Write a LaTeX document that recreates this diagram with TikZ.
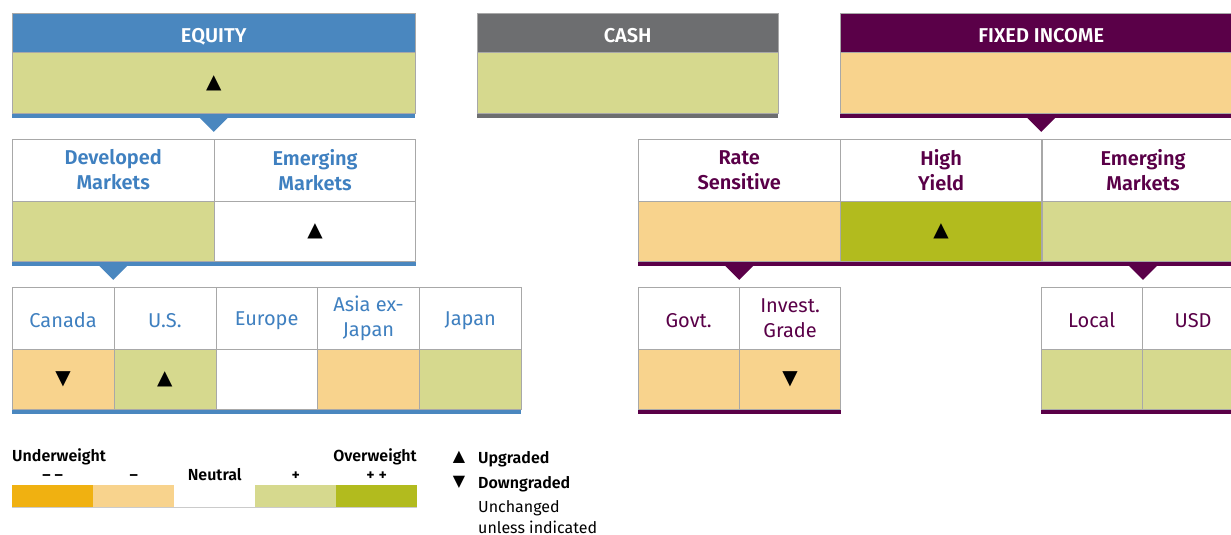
\documentclass[tikz,border=0pt]{standalone}
\usepackage{fontspec}
\setmainfont{Fira Sans}[BoldFont={Fira Sans SemiBold}]
\newfontfamily\trifont{DejaVu Sans}
\usetikzlibrary{calc}

\definecolor{eqblue}{HTML}{4A87BF}
\definecolor{eqtext}{HTML}{3F80C0}
\definecolor{cashgray}{HTML}{6D6E70}
\definecolor{fipurple}{HTML}{5A0048}
\definecolor{lightgreen}{HTML}{D6D98E}
\definecolor{lightorange}{HTML}{F8D38D}
\definecolor{olive}{HTML}{B2BB1E}
\definecolor{darkorange}{HTML}{F0B111}
\definecolor{linegray}{HTML}{A8A8A8}

\newcommand\cellstrut{\rule[-1pt]{0pt}{20pt}}

\tikzset{
  hdr/.style={fill=#1, draw=linegray, text=white, inner sep=0, minimum height=39,
    text height=19pt, text depth=0pt,
    anchor=north west, font=\fontsize{20}{24}\selectfont\bfseries},
  body/.style={fill=#1, draw=linegray, inner sep=0, minimum height=61,
    anchor=north west, font=\trifont\fontsize{20}{20}\selectfont},
  cellhead/.style={fill=white, draw=linegray, inner sep=0, minimum height=62,
    anchor=north west, align=center, text=#1, font=\fontsize{20}{25}\selectfont\bfseries,
    execute at begin node=\cellstrut, execute at end node=\cellstrut},
  subhead/.style={cellhead=#1, font=\fontsize{20}{25}\selectfont},
  cellval/.style={fill=#1, draw=linegray, inner sep=0, minimum height=60,
    anchor=north west, font=\trifont\fontsize{20}{20}\selectfont},
  legbox/.style={fill=#1, inner sep=0, minimum width=81, minimum height=22, anchor=north west},
  legtext/.style={inner sep=0, font=\fontsize{16}{19}\selectfont},
}
% pointer under a stripe, #1 colour, #2 tip base
\newcommand\pointer[2]{\fill[#1] ($(#2)+(-14,0)$) -- ($(#2)+(14,0)$) -- ($(#2)+(0,14)$) -- cycle;}

\begin{document}
\begin{tikzpicture}[x=1pt,y=-1pt]
\clip (0,0) rectangle (1231,535);

% asset classes
\node[hdr=eqblue, minimum width=403] (eqh) at (12,13) {EQUITY};
\node[body=lightgreen, minimum width=403] (eqv) at (eqh.south west) {▲};
\node[hdr=cashgray, minimum width=301] (csh) at (477,13) {CASH};
\node[body=lightgreen, minimum width=301] (csv) at (csh.south west) {};
\node[hdr=fipurple, minimum width=402] (fih) at (840,13) {FIXED INCOME};
\node[body=lightorange, minimum width=402] (fiv) at (fih.south west) {};

\fill[eqblue] (eqv.south west) rectangle ($(eqv.south east)+(0,4)$);
\fill[cashgray] (csv.south west) rectangle ($(csv.south east)+(0,4)$);
\fill[fipurple] (fiv.south west) rectangle ($(fiv.south east)+(0,4)$);
\pointer{eqblue}{$(eqv.south)+(0,4)$}
\pointer{fipurple}{$(fiv.south)+(0,4)$}

% equity regions
\node[cellhead=eqtext, minimum width=202] (dmh) at (12,139) {Developed\\Markets};
\node[cellval=lightgreen, minimum width=202] (dmv) at (dmh.south west) {};
\node[cellhead=eqtext, minimum width=201] (emh) at (dmh.north east) {Emerging\\Markets};
\node[cellval=white, minimum width=201] (emv) at (emh.south west) {▲};
\fill[eqblue] (dmv.south west) rectangle ($(emv.south east)+(0,4)$);
\pointer{eqblue}{$(dmv.south)+(0,4)$}

% fixed income sectors
\node[cellhead=fipurple, minimum width=202] (rsh) at (638,139) {Rate\\Sensitive};
\node[cellval=lightorange, minimum width=202] (rsv) at (rsh.south west) {};
\node[cellhead=fipurple, minimum width=201] (hyh) at (rsh.north east) {High\\Yield};
\node[cellval=olive, minimum width=201] (hyv) at (hyh.south west) {▲};
\node[cellhead=fipurple, minimum width=202] (fmh) at (hyh.north east) {Emerging\\Markets};
\node[cellval=lightgreen, minimum width=202] (fmv) at (fmh.south west) {};
\fill[fipurple] (rsv.south west) rectangle ($(fmv.south east)+(0,4)$);
\pointer{fipurple}{$(rsv.south)+(0,4)$}
\pointer{fipurple}{$(fmv.south)+(0,4)$}

% developed markets countries
\foreach \name/\lbl/\col/\arr [count=\i] in {ca/Canada/lightorange/▼, us/U.S./lightgreen/▲,
    eu/Europe/white/, as/{Asia ex-\\Japan}/lightorange/, jp/Japan/lightgreen/}{
  \node[subhead=eqtext, minimum width=101.8] (\name-h) at ({12+101.8*(\i-1)},287) {\lbl};
  \node[cellval=\col, minimum width=101.8] (\name-v) at (\name-h.south west) {\arr};
}
\fill[eqblue] (ca-v.south west) rectangle ($(jp-v.south east)+(0,4)$);

% rate sensitive and EM debt
\node[subhead=fipurple, minimum width=101] (gvh) at (638,287) {Govt.};
\node[cellval=lightorange, minimum width=101] (gvv) at (gvh.south west) {};
\node[subhead=fipurple, minimum width=101] (igh) at (gvh.north east) {Invest.\\Grade};
\node[cellval=lightorange, minimum width=101] (igv) at (igh.south west) {▼};
\fill[fipurple] (gvv.south west) rectangle ($(igv.south east)+(0,4)$);
\node[subhead=fipurple, minimum width=101] (lch) at (1041,287) {Local};
\node[cellval=lightgreen, minimum width=101] (lcv) at (lch.south west) {};
\node[subhead=fipurple, minimum width=101] (udh) at (lch.north east) {USD};
\node[cellval=lightgreen, minimum width=101] (udv) at (udh.south west) {};
\fill[fipurple] (lcv.south west) rectangle ($(udv.south east)+(0,4)$);

% legend
\foreach \col [count=\i] in {darkorange,lightorange,white,lightgreen,olive}
  \node[legbox=\col] (l\i) at ({12+81*(\i-1)},485) {};
\draw[linegray!60] (l1.south west) -- (l5.south east);
\node[legtext, anchor=base west] (uw) at (12,461) {\bfseries Underweight};
\node[legtext, anchor=base east] (ow) at (417,461) {\bfseries Overweight};
\node[legtext, anchor=base] (m2) at ($(l1.north)+(0,-5)$) {\bfseries – –};
\node[legtext, anchor=base] (m1) at ($(l2.north)+(0,-5)$) {\bfseries –};
\node[legtext, anchor=base] (nt) at ($(l3.north)+(0,-5)$) {\bfseries Neutral};
\node[legtext, anchor=base] (p1) at ($(l4.north)+(0,-5)$) {\bfseries +};
\node[legtext, anchor=base] (p2) at ($(l5.north)+(0,-5)$) {\bfseries + +};

\node[legtext, font=\trifont\fontsize{16}{16}\selectfont] (upa) at (459,457) {▲};
\node[legtext, anchor=base west] (up) at (478,463) {\bfseries Upgraded};
\node[legtext, font=\trifont\fontsize{16}{16}\selectfont] (dna) at (459,482) {▼};
\node[legtext, anchor=base west] (dn) at (478,488) {\bfseries Downgraded};
\node[legtext, anchor=base west] (uc) at (478,512) {Unchanged};
\node[legtext, anchor=base west] (ui) at (478,533) {unless indicated};
\end{tikzpicture}
\end{document}
